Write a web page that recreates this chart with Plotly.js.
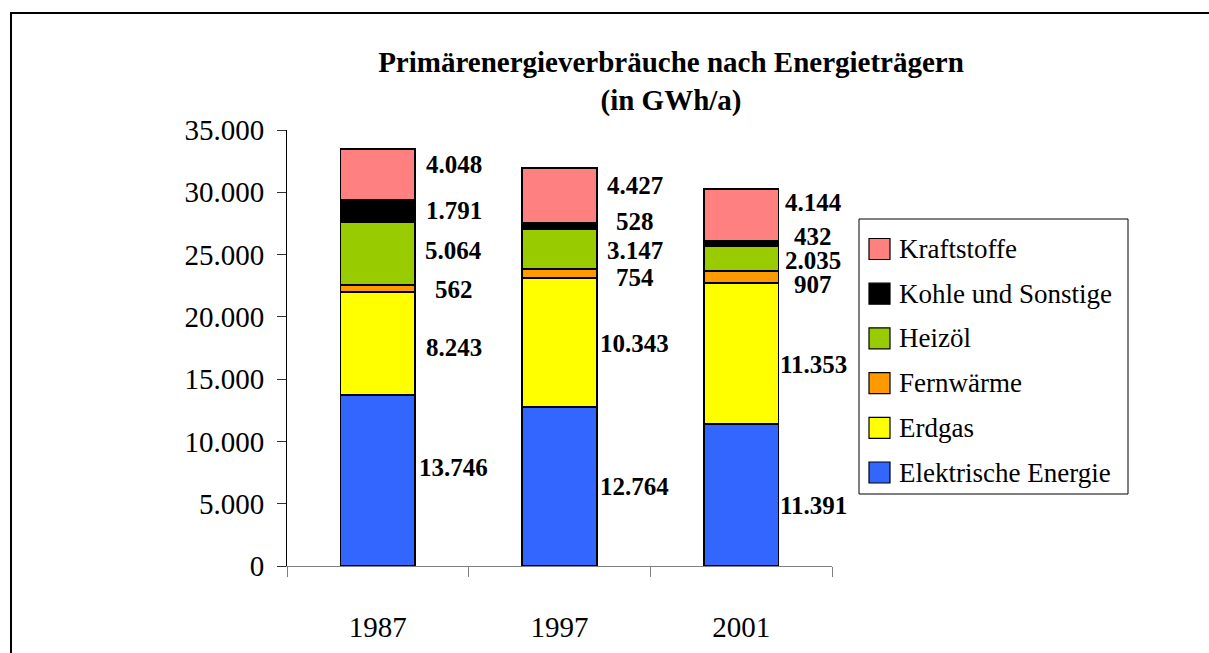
<!DOCTYPE html>
<html>
<head>
<meta charset="utf-8">
<script src="https://cdn.plot.ly/plotly-3.0.1.min.js"></script>
<style>
  html, body { margin: 0; padding: 0; background: #ffffff; }
  #chart { width: 1209px; height: 653px; }
</style>
</head>
<body>
<div id="chart"></div>
<script>
// ---- data ----
const years = ['1987', '1997', '2001'];
const elektrischeEnergie = [13746, 12764, 11391];
const erdgas = [8243, 10343, 11353];
const fernwaerme = [562, 754, 907];
const heizoel = [5064, 3147, 2035];
const kohleUndSonstige = [1791, 528, 432];
const kraftstoffe = [4048, 4427, 4144];
const seriesNames = ['Elektrische Energie', 'Erdgas', 'Fernwärme', 'Heizöl', 'Kohle und Sonstige', 'Kraftstoffe'];
const titleText = 'Primärenergieverbräuche nach Energieträgern';
const subtitleText = '(in GWh/a)';

// ---- style ----
const seriesValues = [elektrischeEnergie, erdgas, fernwaerme, heizoel, kohleUndSonstige, kraftstoffe];
const colors = ['#3366FF', '#FFFF00', '#FF9900', '#99CC00', '#000000', '#FF8080'];
// pixel nudges of the value labels (series x year), positive = up
const labelNudge = [
  [13, 0, -10],
  [-4, -1, -11],
  [-1, -4, -7],
  [3, -1, -2],
  [0, 5, 7],
  [10, 10, 12]
];
const labelXShift = [76, 75, 72];

const W = 1209, H = 653;
const M = { l: 287, r: 377, t: 130, b: 87 };
const PW = W - M.l - M.r, PH = H - M.t - M.b;
const px = x => (x - M.l) / PW;
const py = y => (H - M.b - y) / PH;
const FONT = 'Liberation Serif';

function de(v) { return String(v).replace(/\B(?=(\d{3})+(?!\d))/g, '.'); }

const traces = seriesValues.map((vals, i) => ({
  type: 'bar',
  name: seriesNames[i],
  x: years,
  y: vals,
  marker: { color: colors[i], line: { color: '#000000', width: 1.8 } },
  hoverinfo: 'name+y'
}));

const annotations = [];
for (let s = 0; s < seriesValues.length; s++) {
  for (let j = 0; j < years.length; j++) {
    let base = 0;
    for (let k = 0; k < s; k++) base += seriesValues[k][j];
    annotations.push({
      x: j, xref: 'x',
      y: base + seriesValues[s][j] / 2, yref: 'y',
      text: '<b>' + de(seriesValues[s][j]) + '</b>',
      showarrow: false,
      xanchor: 'center', yanchor: 'middle',
      xshift: labelXShift[j],
      yshift: labelNudge[s][j],
      font: { family: FONT, size: 25, color: '#000000' }
    });
  }
}

const shapes = [
  // outer chart frame (top and left edges visible)
  { type: 'line', xref: 'paper', yref: 'paper', x0: px(10), x1: px(1209), y0: py(13), y1: py(13), line: { color: '#000000', width: 2 } },
  { type: 'line', xref: 'paper', yref: 'paper', x0: px(11), x1: px(11), y0: py(12), y1: py(660), line: { color: '#000000', width: 2 } },
  // legend box
  { type: 'rect', xref: 'paper', yref: 'paper', x0: px(859), x1: px(1128), y0: py(494), y1: py(219), line: { color: '#000000', width: 1 }, fillcolor: 'rgba(0,0,0,0)' }
];
// custom legend (top to bottom: last series first)
const legendOrder = [5, 4, 3, 2, 1, 0];
legendOrder.forEach((s, i) => {
  const cy = 249 + i * 44.7;
  shapes.push({
    type: 'rect', xref: 'paper', yref: 'paper',
    x0: px(869), x1: px(890), y0: py(cy + 10.5), y1: py(cy - 10.5),
    fillcolor: colors[s], line: { color: '#000000', width: 1.2 }
  });
  annotations.push({
    xref: 'paper', yref: 'paper', x: px(897), y: py(cy),
    xanchor: 'left', yanchor: 'middle', showarrow: false,
    text: seriesNames[s],
    font: { family: FONT, size: 27, color: '#000000' }
  });
});

const layout = {
  width: W, height: H,
  margin: M,
  paper_bgcolor: '#ffffff',
  plot_bgcolor: '#ffffff',
  separators: ',.',
  barmode: 'stack',
  bargap: 0.59,
  showlegend: false,
  font: { family: FONT, color: '#000000' },
  title: {
    text: '<b>' + titleText + '</b><br><b>' + subtitleText + '</b>',
    font: { family: FONT, size: 29, color: '#000000' },
    x: 671 / W, xref: 'container', xanchor: 'center',
    y: 1 - 72 / H, yref: 'container', yanchor: 'middle'
  },
  xaxis: {
    type: 'category',
    range: [-0.5, 2.5],
    showline: true, linecolor: '#808080', linewidth: 1,
    ticks: 'outside', ticklen: 10, tickcolor: '#808080', tickwidth: 1,
    tickson: 'boundaries',
    ticklabelstandoff: 35,
    tickfont: { family: FONT, size: 29, color: '#000000' },
    showgrid: false, zeroline: false, fixedrange: true
  },
  yaxis: {
    range: [0, 35000],
    tick0: 0, dtick: 5000,
    tickformat: ',d',
    showline: true, linecolor: '#000000', linewidth: 1,
    ticks: 'outside', ticklen: 9, tickcolor: '#333333', tickwidth: 1,
    ticklabelstandoff: 7,
    tickfont: { family: FONT, size: 29, color: '#000000' },
    showgrid: false, zeroline: false, fixedrange: true
  },
  shapes: shapes,
  annotations: annotations
};

Plotly.newPlot('chart', traces, layout, { displayModeBar: false, staticPlot: true });
</script>
</body>
</html>
